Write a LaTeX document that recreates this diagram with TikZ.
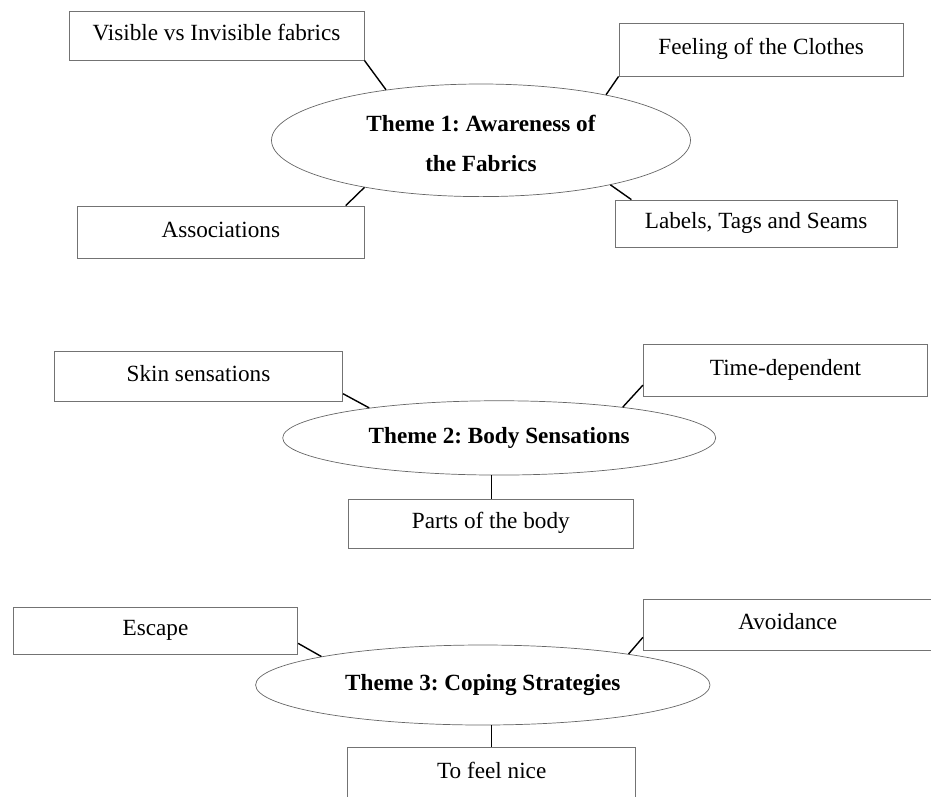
\documentclass[tikz,border=0pt]{standalone}
\usepackage{fontspec}
\setmainfont{Liberation Serif}
\usetikzlibrary{calc,shapes.geometric}
\frenchspacing
\tikzset{
  leaf/.style={draw=black!55, line width=0.8pt, inner sep=0pt, text height=16pt, text depth=5.8pt,
    font=\fontsize{23.2}{27}\selectfont\frenchspacing},
  theme/.style={draw=black!60, line width=0.7pt, ellipse, inner sep=0pt, align=center,
    font=\fontsize{23.2}{40}\selectfont\bfseries\frenchspacing},
  link/.style={draw=black, line width=1.4pt}
}
\begin{document}
\begin{tikzpicture}[x=1pt,y=-1pt]
\useasboundingbox (0,0) rectangle (931,796);
% Theme 1
\node[theme, minimum width=419pt, minimum height=112.6pt] (e1) at (481,140.3) {\rule{0pt}{22.7pt}Theme 1: Awareness of\\the Fabrics};
\node[leaf, minimum width=295pt, minimum height=48.3pt] (vis) at (216.5,35.85) {Visible vs Invisible fabrics};
\node[leaf, minimum width=284.3pt, minimum height=52.7pt] (feel) at (761.15,49.65) {Feeling of the Clothes};
\node[leaf, minimum width=287pt, minimum height=52.3pt] (assoc) at (220.8,232.15) {Associations};
\node[leaf, minimum width=282.3pt, minimum height=47.7pt] (labels) at (756.15,223.85) {Labels, Tags and Seams};
\draw[link] (vis.south east) -- (e1.152);
\draw[link] (feel.south west) -- (e1.20);
\draw[link] (assoc.12) -- (e1.202);
\draw[link] (labels.169.8) -- (e1.341);
% Theme 2
\node[theme, minimum width=433pt, minimum height=74.3pt] (e2) at (499.2,437.9) {Theme 2: Body Sensations};
\node[leaf, minimum width=288.4pt, minimum height=50pt] (skin) at (198.5,376) {Skin sensations};
\node[leaf, minimum width=284.4pt, minimum height=51.7pt] (time) at (785.5,370.15) {Time-dependent};
\node[leaf, minimum width=285pt, minimum height=49.3pt] (parts) at (490.8,523.65) {Parts of the body};
\draw[link] (skin.-7.5) -- (e2.167.8);
\draw[link] (time.186.9) -- (e2.14.9);
\draw[link] (e2.258) -- (e2.258 |- parts.north);
% Theme 3
\node[theme, minimum width=454.4pt, minimum height=80pt] (e3) at (482.8,685) {Theme 3: Coping Strategies};
\node[leaf, minimum width=284.4pt, minimum height=46.3pt] (escape) at (155.5,630.85) {Escape};
\node[leaf, minimum width=288.7pt, minimum height=50.7pt] (avoid) at (787.65,624.65) {Avoidance};
\node[leaf, minimum width=288pt, minimum height=52.7pt] (nice) at (491.7,773.65) {To feel nice};
\draw[link] (escape.-5.68) -- (e3.170.5);
\draw[link] (avoid.185.8) -- (e3.12.4);
\draw[link] (e3.282.5) -- (e3.282.5 |- nice.north);
\end{tikzpicture}
\end{document}
